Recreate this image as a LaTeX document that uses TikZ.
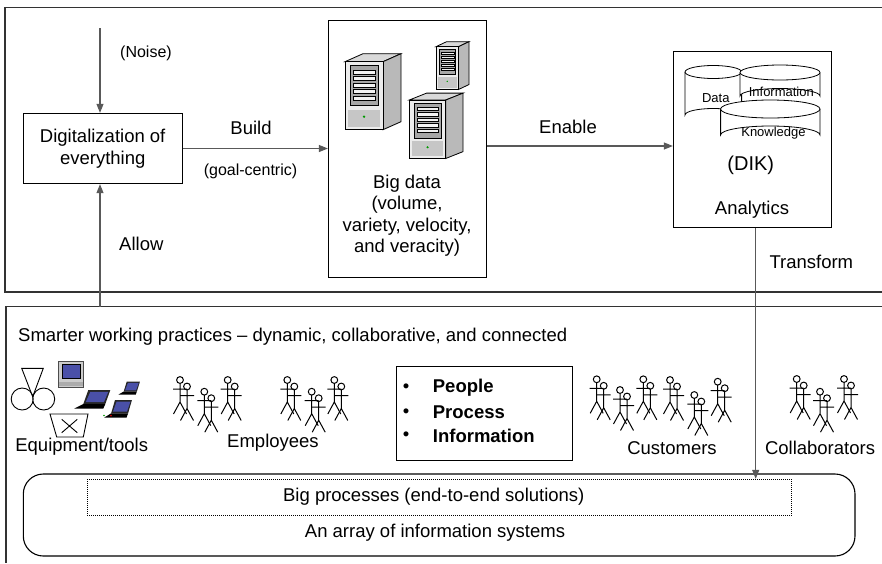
\documentclass[tikz,border=0pt]{standalone}
\usepackage{fontspec}
\setmainfont{Liberation Sans}
\usetikzlibrary{arrows.meta,positioning,calc}
\definecolor{lcd}{HTML}{4A50A8}

\begin{document}
\begin{tikzpicture}[x=1pt,y=-1pt,
    conn/.style={draw=black!65,line width=1.1pt},
    arr/.style={conn,-{Triangle[length=9pt,width=7pt]}},
    box/.style={draw,line width=0.9pt,inner sep=0pt,fill=white},
    frame/.style={draw=black!80,line width=1.8pt},
    lbl/.style={font=\fontsize{18.5}{21.5}\selectfont,inner sep=0pt},
    sml/.style={font=\fontsize{16}{19}\selectfont,inner sep=0pt},
    tny/.style={font=\fontsize{13}{15}\selectfont,inner sep=0pt},
    % tower server, origin at the front top left corner
    pics/server/.style={code={
      \draw[line width=0.8pt,fill=gray!30] (0,0)--(38,0)--(56,-8)--(18,-8)--cycle;
      \draw[line width=0.8pt,fill=gray!55] (38,0)--(56,-8)--(56,60)--(38,68)--cycle;
      \draw[line width=0.8pt,fill=gray!15] (0,0) rectangle (38,68);
      \draw[line width=0.6pt,fill=gray!70] (5,4) rectangle (33,44);
      \foreach \s in {8,14.5,21,27.5,34}
        \draw[line width=0.4pt,fill=gray!10] (8,\s) rectangle (30,\s+4);
      \fill[gray!45] (3,48) rectangle (35,65);
      \fill[green!60!black] (19,55) circle (1.3);
    }},
    % notebook, origin at the top left of the screen
    pics/laptop/.style={code={
      \fill[black!85] (0,0)--(22,0)--(17,14)--(-5,14)--cycle;
      \fill[lcd] (2,1.8)--(20,1.8)--(15.6,12.2)--(-2.6,12.2)--cycle;
      \fill[black] (-5,14)--(17,14)--(15,18.5)--(-14,18.5)--cycle;
    }},
    % stick figure, origin at the centre of the head
    pics/stick/.style={code={
      \draw[line width=1pt] (0,0) circle (3.4);
      \draw[line width=1pt] (0,3.4)--(0,22) (-7,9)--(7,9)
        (-6.5,34)--(0,22)--(6.5,34);
    }},
    pics/stickpair/.style={code={
      \pic {stick};
      \pic at (7,6.5) {stick};
    }}
  ]
  \useasboundingbox (0,0) rectangle (882,563);

  % the two layers
  \draw[frame] (882,7.5) -| (5,291.7) -- (882,291.7);
  \draw[frame,line width=1.3pt] (882,306.7) -| (6,563);

  % upper layer
  \node[box,minimum width=158.7pt,minimum height=70.4pt,align=center,lbl]
    (dig) at (102.7,148.5) {Digitalization of\\everything};
  \node[box,minimum width=157.7pt,minimum height=257.3pt] (bigdata) at (407.2,148.7) {};
  \node[box,minimum width=158.4pt,minimum height=176pt] (analytics) at (752.5,139.7) {};

  \pic at (436,46.7) [xscale=0.59,yscale=0.63] {server};
  \pic at (345,61.7) {server};
  \pic at (409.3,100) [xscale=0.96,yscale=0.86] {server};
  \node[lbl,align=center] (bdtext) at (407,215.8)
    {Big data\\(volume,\\variety, velocity,\\and veracity)};

  % DIK stores
  \draw[line width=0.8pt,fill=white] (685,72) -- (685,115) arc[start angle=180,end angle=360,x radius=28.3,y radius=6.5]
    -- (741.6,72);
  \draw[line width=0.8pt,fill=white] (713.3,72) ellipse[x radius=28.3,y radius=6.5];
  \draw[line width=0.8pt,fill=white] (740,72.5) -- (740,96) arc[start angle=180,end angle=360,x radius=40,y radius=7.5]
    -- (820,72.5);
  \draw[line width=0.8pt,fill=white] (780,72.5) ellipse[x radius=40,y radius=7.5];
  \draw[line width=0.8pt,fill=white] (720.6,109) -- (720.6,135) arc[start angle=180,end angle=360,x radius=49.7,y radius=9]
    -- (820,109);
  \draw[line width=0.8pt,fill=white] (770.3,109) ellipse[x radius=49.7,y radius=9];
  \node[tny] (data) at (715.8,97.7) {Data};
  \node[tny] (info) at (781.3,92.3) {Information};
  \node[tny] (know) at (773.5,133.3) {Knowledge};
  \node[lbl,font=\fontsize{20}{22}\selectfont] (dik) at (750.8,165) {(DIK)};
  \node[lbl] (anl) at (752,209.3) {Analytics};

  % connectors
  \coordinate (noise) at (100,28);
  \coordinate (allow) at (100,306.7);
  \coordinate (tf) at (755.7,0);
  \draw[arr] (noise) -- (noise |- dig.north);
  \draw[arr] (allow) -- (allow |- dig.south);
  \draw[arr] (dig.east) -- (dig.east -| bigdata.west);
  \draw[arr] (bigdata.east |- 0,146) -- (analytics.west |- 0,146);

  \node[sml] at (146,53) {(Noise)};
  \node[lbl] at (141.3,244) {Allow};
  \node[lbl] at (251,127.7) {Build};
  \node[sml] at (250.5,171.7) {(goal-centric)};
  \node[lbl] at (568,126.7) {Enable};
  \node[lbl] at (811.3,261.7) {Transform};

  % lower layer
  \node[lbl,anchor=west] (smart) at (18,336.7)
    {Smarter working practices -- dynamic, collaborative, and connected};

  % equipment and tools
  \draw[line width=0.9pt] (21.7,368.3) -- (32.7,396.7) -- (43.3,368.3) -- cycle;
  \draw[line width=0.9pt] (22.2,399) circle (11) (43.7,399) circle (11);
  \draw[line width=0.9pt] (50,414) -- (88,414) -- (83.3,437) -- (56.7,437) -- cycle
    (61.7,419.3) -- (77.3,432.7) (77.3,419.3) -- (61.7,432.7);
  \draw[black!70,fill=gray!40] (58.3,361) rectangle (83.3,386.7);
  \draw[fill=lcd] (61.7,364.3) rectangle (80,378.3);
  \fill[gray!65] (59,381.5) rectangle (82.6,386);
  \pic at (88.3,390) {laptop};
  \pic at (126.7,381.7) [xscale=0.6,yscale=0.7] {laptop};
  \pic at (115,400) [xscale=0.77,yscale=0.95] {laptop};
  \fill[red!80!black] (111,415.5) circle (1);
  \fill[green!60!black] (104,415.5) circle (0.8);
  \node[lbl] (equip) at (81.7,446.7) {Equipment/tools};

  % people
  \foreach \px/\py in {180/380,204.3/391.7,227.7/380,287.3/380,311.7/391.7,334.3/380}
    \pic at (\px,\py) {stickpair};
  \node[lbl] (empl) at (273,442.3) {Employees};
  \foreach \px/\py in {596.7/379.3,620/390,643.3/379.3,670/380,694.3/395,717.7/381.7}
    \pic at (\px,\py) {stickpair};
  \node[lbl] (cust) at (672,448.3) {Customers};
  \foreach \px/\py in {796.7/379,820/391.7,844/379}
    \pic at (\px,\py) {stickpair};
  \node[lbl] (collab) at (820,448.3) {Collaborators};

  % people, process, information
  \node[box,minimum width=176pt,minimum height=94pt] (pillars) at (484.7,413) {};
  \foreach \t/\ty in {People/387.7,Process/412.7,Information/436}{
    \node[lbl] at (406,\ty) {\textbullet};
    \node[lbl,anchor=west,font=\fontsize{18.5}{21.5}\selectfont\bfseries] at (432.7,\ty) {\t};
  }

  % information systems
  \draw[line width=1.1pt,rounded corners=20pt] (23.3,474) rectangle (855,556);
  \node[draw,dash pattern=on 0.9pt off 1.1pt,line width=1.1pt,minimum width=704.4pt,minimum height=35.7pt,inner sep=0pt]
    (procs) at (439.5,497.2) {};
  \node[lbl] at (433.8,496.7) {Big processes (end-to-end solutions)};
  \node[lbl] (systems) at (435,532.3) {An array of information systems};

  \draw[arr] (tf |- analytics.south) -- (tf |- procs.north);
\end{tikzpicture}
\end{document}
